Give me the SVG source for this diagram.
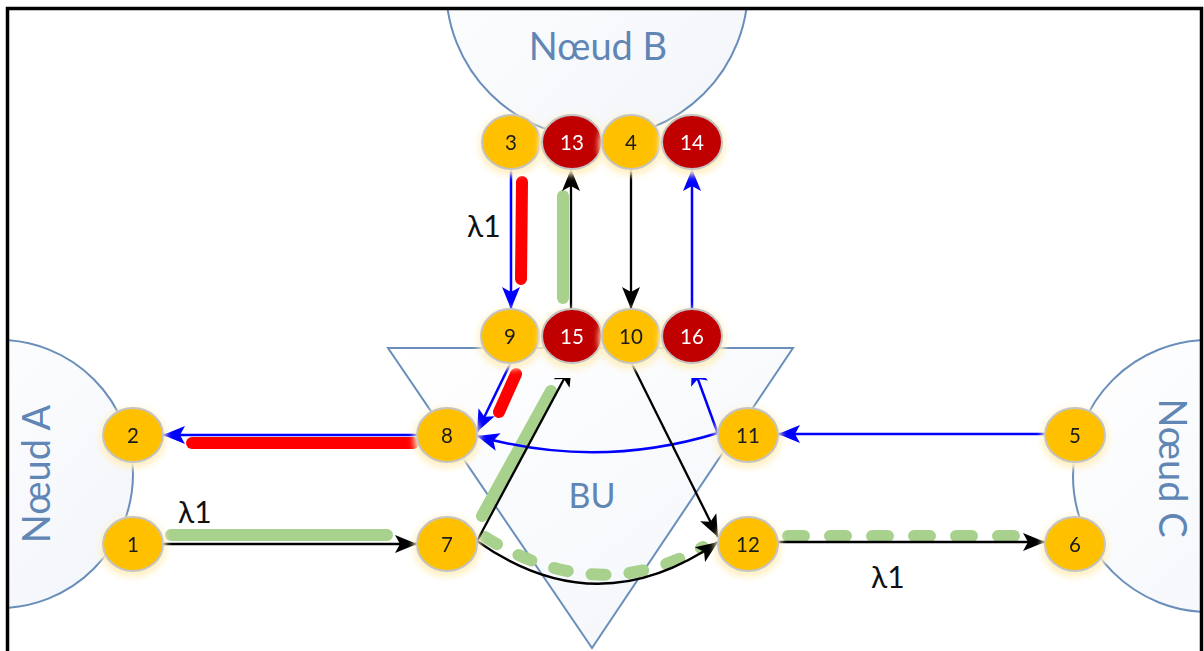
<svg xmlns="http://www.w3.org/2000/svg" width="1204" height="651" viewBox="0 0 1204 651">
<defs>
<style>
.big{fill:url(#bg);stroke:#6A8EBA;stroke-width:2}
.lbl{font-family:Lato,"Open Sans","Liberation Sans",sans-serif;fill:#5F86B4}
.ntxt{font-family:Lato,"Open Sans","Liberation Sans",sans-serif;font-size:20.5px;text-anchor:middle;dominant-baseline:central}
.o ellipse{fill:#FFC000;stroke:#C4C4C4;stroke-width:2}
.o text{fill:#1a1a1a}
.r ellipse{fill:#C00000;stroke:#C4C4C4;stroke-width:2}
.r text{fill:#ffffff}
.lam{font-family:Lato,"Open Sans","Liberation Sans",sans-serif;font-size:30px;fill:#111}
.bl{stroke:#0000FF;stroke-width:2.5;fill:none}
.bk{stroke:#000;stroke-width:2.3;fill:none}
.red{stroke:#FF0000;stroke-width:12;stroke-linecap:round;fill:none}
.grn{stroke:#A9D18E;stroke-width:12;stroke-linecap:round;fill:none}
</style>
<linearGradient id="bg" x1="0" y1="0" x2="1" y2="1">
<stop offset="0" stop-color="#ffffff"/>
<stop offset="1" stop-color="#f2f5fa"/>
</linearGradient>
<clipPath id="frame"><rect x="9" y="10" width="1191" height="645"/></clipPath>
<clipPath id="cut"><rect x="0" y="378" width="1204" height="273"/></clipPath>
<filter id="glow" x="-40%" y="-40%" width="180%" height="190%">
<feMorphology in="SourceAlpha" operator="dilate" radius="2" result="d"/>
<feGaussianBlur in="d" stdDeviation="3" result="b"/>
<feOffset in="b" dy="3" result="o"/>
<feFlood flood-color="#fff0c4"/>
<feComposite in2="o" operator="in" result="g"/>
<feMerge><feMergeNode in="g"/><feMergeNode in="SourceGraphic"/></feMerge>
</filter>
<marker id="ab" markerUnits="userSpaceOnUse" markerWidth="24" markerHeight="20" refX="22" refY="10" orient="auto">
<path d="M0,1 L22,10 L0,19 L5,10 z" fill="#0000FF"/>
</marker>
<marker id="ak" markerUnits="userSpaceOnUse" markerWidth="24" markerHeight="20" refX="22" refY="10" orient="auto">
<path d="M0,1 L22,10 L0,19 L5,10 z" fill="#000"/>
</marker>
</defs>
<rect x="0" y="0" width="1204" height="651" fill="#fff"/>
<g id="regions" clip-path="url(#frame)">
<circle class="big" cx="-1" cy="474" r="134"/>
<circle class="big" cx="597" cy="-13" r="151"/>
<circle class="big" cx="1209" cy="476" r="136"/>
<polygon class="big" points="388,348 793,348 592,648"/>
</g>
<rect x="7.5" y="8.5" width="1194" height="700" fill="none" stroke="#000" stroke-width="3.5"/>
<g id="region-labels">
<text class="lbl" x="598" y="60" font-size="38" text-anchor="middle">Nœud B</text>
<text class="lbl" font-size="38" text-anchor="middle" transform="translate(50,474) rotate(-90)">Nœud A</text>
<text class="lbl" font-size="38" text-anchor="middle" transform="translate(1159,468) rotate(90)">Nœud C</text>
<text class="lbl" x="592" y="508" font-size="34" text-anchor="middle">BU</text>
</g>
<g id="connectors">
<line class="red" x1="522" y1="182" x2="521" y2="279"/>
<line class="grn" x1="563" y1="196" x2="563" y2="298"/>
<line class="red" x1="516" y1="374" x2="499" y2="412"/>
<line class="red" x1="192" y1="443" x2="413" y2="443"/>
<line class="grn" x1="171" y1="535" x2="387" y2="535"/>
<line class="grn" x1="482" y1="516" x2="551" y2="391"/>
<path class="grn" d="M485,537 Q597,607 703,547" stroke-width="11" stroke-dasharray="14 24"/>
<line class="grn" x1="788" y1="536" x2="1016" y2="536" stroke-dasharray="16 26"/>
<line class="bl" x1="511" y1="168" x2="511" y2="309" marker-end="url(#ab)"/>
<line class="bk" x1="571" y1="310" x2="571" y2="169" marker-end="url(#ak)"/>
<line class="bk" x1="631" y1="168" x2="631" y2="309" marker-end="url(#ak)"/>
<line class="bl" x1="692" y1="309" x2="692" y2="169" marker-end="url(#ab)"/>
<line class="bl" x1="511" y1="362" x2="477" y2="432" marker-end="url(#ab)"/>
<path class="bl" d="M718,433 Q597,470 477,436" marker-end="url(#ab)"/>
<g clip-path="url(#cut)">
<line class="bk" x1="477" y1="541" x2="572" y2="364" marker-end="url(#ak)"/>
<line class="bl" x1="718" y1="434" x2="692" y2="363" marker-end="url(#ab)"/>
</g>
<line class="bk" x1="632" y1="364" x2="718" y2="537" marker-end="url(#ak)"/>
<path class="bk" d="M477,541 Q597,626 718,542" marker-end="url(#ak)"/>
<line class="bl" x1="417" y1="435" x2="163" y2="435" marker-end="url(#ab)"/>
<line class="bk" x1="163" y1="544" x2="417" y2="544" marker-end="url(#ak)"/>
<line class="bl" x1="1045" y1="434" x2="778" y2="434" marker-end="url(#ab)"/>
<line class="bk" x1="778" y1="542" x2="1045" y2="542" marker-end="url(#ak)"/>
</g>
<g id="wavelengths">
<text class="lam" x="467" y="237">λ1</text>
<text class="lam" x="178" y="523">λ1</text>
<text class="lam" x="871" y="588">λ1</text>
</g>
<g id="node-3" class="o" filter="url(#glow)"><ellipse cx="511" cy="142" rx="29" ry="27"/><text class="ntxt" x="511" y="142">3</text></g>
<g id="node-13" class="r" filter="url(#glow)"><ellipse cx="572" cy="142" rx="30" ry="27"/><text class="ntxt" x="572" y="142">13</text></g>
<g id="node-4" class="o" filter="url(#glow)"><ellipse cx="631" cy="142" rx="29" ry="27"/><text class="ntxt" x="631" y="142">4</text></g>
<g id="node-14" class="r" filter="url(#glow)"><ellipse cx="692" cy="142" rx="30" ry="27"/><text class="ntxt" x="692" y="142">14</text></g>
<g id="node-9" class="o" filter="url(#glow)"><ellipse cx="510" cy="336" rx="29" ry="27"/><text class="ntxt" x="510" y="336">9</text></g>
<g id="node-15" class="r" filter="url(#glow)"><ellipse cx="572" cy="336" rx="30" ry="27"/><text class="ntxt" x="572" y="336">15</text></g>
<g id="node-10" class="o" filter="url(#glow)"><ellipse cx="631" cy="336" rx="29" ry="27"/><text class="ntxt" x="631" y="336">10</text></g>
<g id="node-16" class="r" filter="url(#glow)"><ellipse cx="692" cy="336" rx="30" ry="27"/><text class="ntxt" x="692" y="336">16</text></g>
<g id="node-2" class="o" filter="url(#glow)"><ellipse cx="133" cy="435" rx="30" ry="27"/><text class="ntxt" x="133" y="435">2</text></g>
<g id="node-8" class="o" filter="url(#glow)"><ellipse cx="447" cy="435" rx="30" ry="27"/><text class="ntxt" x="447" y="435">8</text></g>
<g id="node-11" class="o" filter="url(#glow)"><ellipse cx="748" cy="435" rx="30" ry="27"/><text class="ntxt" x="748" y="435">11</text></g>
<g id="node-5" class="o" filter="url(#glow)"><ellipse cx="1075" cy="435" rx="30" ry="27"/><text class="ntxt" x="1075" y="435">5</text></g>
<g id="node-1" class="o" filter="url(#glow)"><ellipse cx="133" cy="544" rx="30" ry="27"/><text class="ntxt" x="133" y="544">1</text></g>
<g id="node-7" class="o" filter="url(#glow)"><ellipse cx="447" cy="544" rx="30" ry="27"/><text class="ntxt" x="447" y="544">7</text></g>
<g id="node-12" class="o" filter="url(#glow)"><ellipse cx="748" cy="544" rx="30" ry="27"/><text class="ntxt" x="748" y="544">12</text></g>
<g id="node-6" class="o" filter="url(#glow)"><ellipse cx="1075" cy="544" rx="30" ry="27"/><text class="ntxt" x="1075" y="544">6</text></g>
</svg>
